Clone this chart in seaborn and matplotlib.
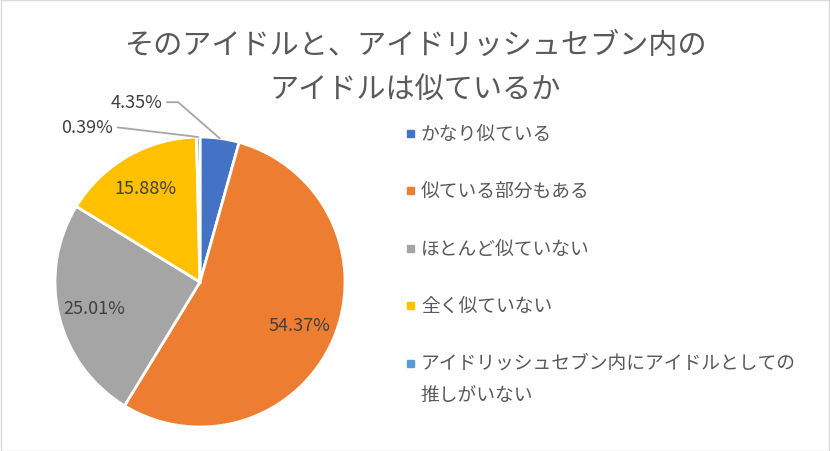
import numpy as np
import matplotlib.pyplot as plt
import seaborn as sns
from matplotlib.patches import Rectangle

# -------------------------------
# DATA
# -------------------------------
title = "そのアイドルと、アイドリッシュセブン内の\nアイドルは似ているか"
categories = ["かなり似ている", "似ている部分もある", "ほとんど似ていない",
              "全く似ていない", "アイドリッシュセブン内にアイドルとしての\n推しがいない"]
values = [4.35, 54.37, 25.01, 15.88, 0.39]
colors = ["#4472C4", "#ED7D31", "#A5A5A5", "#FFC000", "#5B9BD5"]

sns.set_theme(style="white")
plt.rcParams['font.family'] = ['Noto Sans CJK JP', 'DejaVu Sans']

W, H = 830, 452
fig = plt.figure(figsize=(W / 100, H / 100), dpi=100)

# pie centre (200, 283) px, radius 145 px
cx, cy, r = 200, 283, 145
ax = fig.add_axes([(cx - r) / W, (H - cy - r) / H, 2 * r / W, 2 * r / H])

wedges, _ = ax.pie(values, colors=colors, startangle=90, counterclock=False,
                   wedgeprops=dict(edgecolor="white", linewidth=2))
ax.set_xlim(-1, 1)
ax.set_ylim(-1, 1)
ax.set_aspect("equal")
ax.axis("off")

txt_color = "#404040"
fs_lab = 13

# inside labels
for w, v in zip(wedges, values):
    if v < 10:
        continue
    mid = np.radians((w.theta1 + w.theta2) / 2)
    ax.text(0.75 * np.cos(mid), 0.75 * np.sin(mid), f"{v:.2f}%",
            ha="center", va="center", fontsize=fs_lab, color=txt_color)

# small slices: outside labels with leader lines
outside = {0: (-0.26, 1.24, "angle,angleA=0,angleB=-41,rad=0"),
           4: (-0.60, 1.07, "arc3")}
for i, (tx, ty, cs) in outside.items():
    w = wedges[i]
    mid = np.radians((w.theta1 + w.theta2) / 2)
    ax.annotate(f"{values[i]:.2f}%", xy=(np.cos(mid), np.sin(mid)),
                xytext=(tx, ty), ha="right", va="center",
                fontsize=fs_lab, color=txt_color, annotation_clip=False,
                arrowprops=dict(arrowstyle="-", color="#A6A6A6", lw=1.3,
                                connectionstyle=cs, shrinkA=1, shrinkB=0,
                                relpos=(1, 0.5)))

# title
fig.text(415 / W, 1 - 68 / H, title, ha="center", va="center",
         fontsize=21, color="#595959", linespacing=1.62)

# legend
for i, (lab, c) in enumerate(zip(categories, colors)):
    yc = 134 + i * 57.5
    fig.patches.append(Rectangle((407 / W, 1 - (yc + 3.5) / H), 7 / W, 7 / H,
                                 transform=fig.transFigure, color=c))
    nlines = lab.count("\n") + 1
    fig.text(421 / W, 1 - (yc + (nlines - 1) * 15) / H, lab, ha="left",
             va="center", fontsize=13.5, color="#595959", linespacing=1.7)

# chart border
fig.patches.append(Rectangle((0.5 / W, 0.5 / H), 1 - 1.5 / W, 1 - 1.5 / H,
                             transform=fig.transFigure, fill=False,
                             edgecolor="#D9D9D9", lw=1))

fig.savefig("out.png", dpi=100, facecolor="white")
plt.close()
